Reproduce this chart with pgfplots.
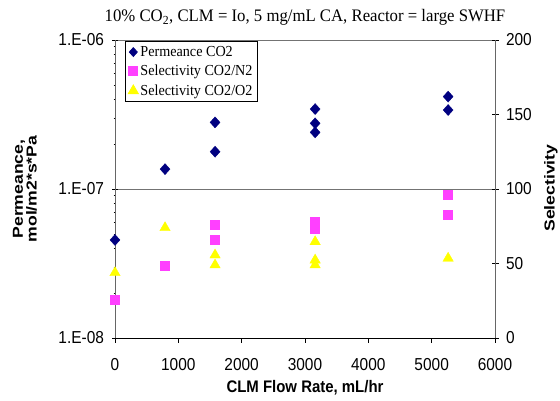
\documentclass[border=0pt]{standalone}
\usepackage{pgfplots}
\pgfplotsset{compat=1.18}
\usepackage{fontspec}
\setmainfont{Liberation Sans}
\newfontfamily\timesf{Liberation Serif}
\definecolor{navyd}{HTML}{000080}
\definecolor{pinkm}{HTML}{FF40FF}
\definecolor{yell}{HTML}{FFFF00}
\begin{document}
\begin{tikzpicture}[x=1bp,y=1bp]
\useasboundingbox (-115,-62) rectangle (445,338);
% left axis: permeance (log)
\begin{axis}[
    scale only axis, width=380bp, height=298bp,
    at={(0,0)}, anchor=south west,
    xmin=0, xmax=6000,
    ymode=log, ymin=1e-8, ymax=1e-6,
    axis y line*=left, axis x line*=bottom,
    axis line style={black, line width=0.8pt},
    y axis line style={gray!80!black},
    xtick={0,1000,...,6000},
    ytick={1e-8,1e-7,1e-6},
    yticklabels={1.E-08,1.E-07,1.E-06},
    minor ytick={},
    ymajorgrids, grid style={gray!90!black, line width=0.9pt},
    tick style={black, line width=0.7pt},
    major tick length=5bp,
    xtick align=outside, ytick align=center,
    /pgf/number format/assume math mode=true,
    /pgf/number format/set thousands separator={},
    tick label style={font=\fontsize{15.5}{15.5}\selectfont, yscale=1.12},
    xticklabel style={yshift=-10bp},
    yticklabel style={xshift=-5bp},
    xlabel={CLM Flow Rate, mL/hr},
    xlabel style={font=\bfseries\fontsize{15}{15}\selectfont, yscale=1.12,
        at={(axis description cs:0.5,-0.168)}, anchor=center},
    ylabel={\scalebox{1.22}[1]{\begin{tabular}{@{}c@{}}Permeance,\\[-1pt]mol/m2*s*Pa\end{tabular}}},
    ylabel style={font=\bfseries\fontsize{14.5}{14}\selectfont,
        at={(axis description cs:-0.232,0.5)}, anchor=center},
    title={10\% CO\textsubscript{2}, CLM = Io, 5 mg/mL CA, Reactor = large SWHF},
    title style={font=\timesf\fontsize{16.8}{17}\selectfont, yscale=1.05,
        at={(axis description cs:0.5,1)}, anchor=base, yshift=12bp},
    clip=false,
]
\addplot[only marks, mark=diamond*, mark size=5.5bp, mark options={xscale=1.2, fill=navyd, draw=navyd}] coordinates {
    (0,4.55e-8) (790,1.36e-7) (1580,2.8e-7) (1580,1.78e-7)
    (3160,3.44e-7) (3160,2.76e-7) (3160,2.40e-7)
    (5260,4.17e-7) (5260,3.39e-7)
};
\end{axis}
% right axis: selectivity
\begin{axis}[
    scale only axis, width=380bp, height=298bp,
    at={(0,0)}, anchor=south west,
    xmin=0, xmax=6000,
    ymin=0, ymax=200,
    axis y line*=right, axis x line=none,
    axis line style={gray!80!black, line width=0.8pt},
    ytick={0,50,...,200},
    tick style={black, line width=0.7pt},
    major tick length=7bp,
    ytick align=center,
    /pgf/number format/assume math mode=true,
    tick label style={font=\fontsize{15.5}{15.5}\selectfont, yscale=1.12},
    yticklabel style={xshift=4bp},
    ylabel={\scalebox{1.22}[1]{Selectivity}},
    ylabel style={font=\bfseries\fontsize{14.5}{14}\selectfont,
        at={(axis description cs:1.147,0.503)}, anchor=center},
    legend style={at={(0.027,0.996)}, anchor=north west, draw=black, line width=0.7pt,
        font=\timesf\fontsize{14.2}{15}\selectfont, row sep=3bp,
        inner sep=2.5bp, nodes={yscale=1.08}},
    legend cell align=left,
    clip=false,
]
\addlegendimage{only marks, mark=diamond*, mark size=4.5bp, mark options={xscale=1.2, fill=navyd, draw=navyd}}
\addlegendentry{Permeance CO2}
\addplot[only marks, mark=square*, mark size=4.5bp, mark options={fill=pinkm, draw=pinkm}] coordinates {
    (0,25.5) (790,48.8) (1580,76.3) (1580,65.8)
    (3160,78) (3160,73.6) (5260,96) (5260,83)
};
\addlegendentry{Selectivity CO2/N2}
\addplot[only marks, mark=triangle*, mark size=6bp, mark options={fill=yell, draw=yell}] coordinates {
    (0,43.8) (790,74) (1580,55.7) (1580,49)
    (3160,64.6) (3160,52.3) (3160,49) (5260,53.5)
};
\addlegendentry{Selectivity CO2/O2}
\end{axis}
\end{tikzpicture}
\end{document}
